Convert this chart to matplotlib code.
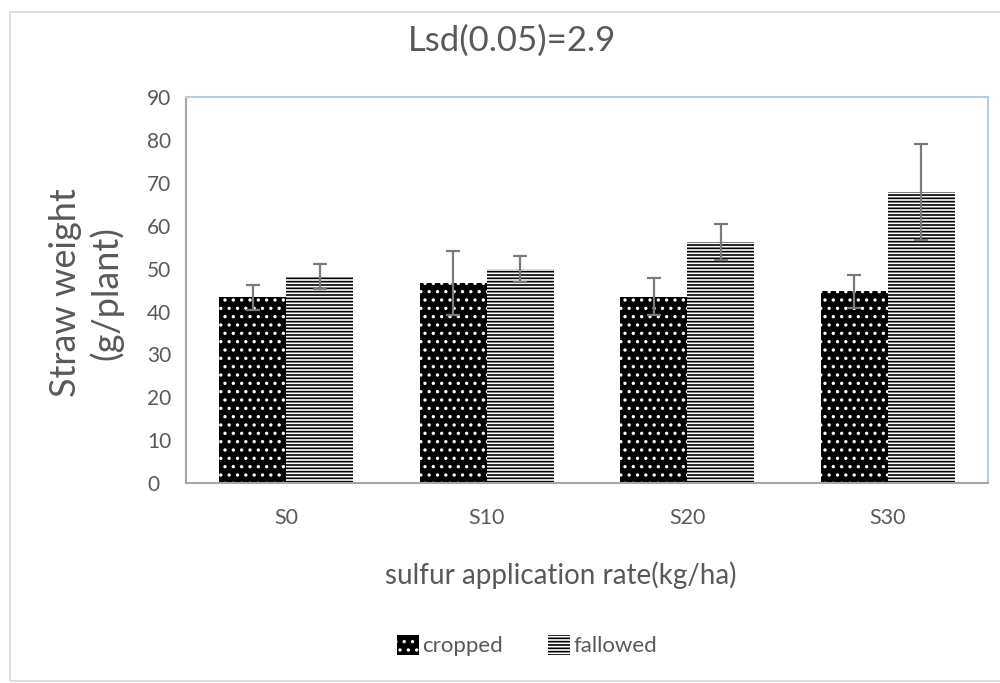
import numpy as np
import matplotlib.pyplot as plt
from matplotlib.patches import Rectangle

plt.rcParams['font.family'] = ['Lato', 'DejaVu Sans']
plt.rcParams['hatch.linewidth'] = 1.2

# Straw weight (g/plant) by sulfur rate, with error bars
categories = ["S0", "S10", "S20", "S30"]
cropped = [43.3, 46.6, 43.5, 44.7]
cropped_err = [3.0, 7.5, 4.3, 3.9]
fallowed = [48.2, 50.0, 56.3, 67.8]
fallowed_err = [3.0, 3.0, 4.2, 11.2]

text_gray = "#595959"

fig = plt.figure(figsize=(10, 6.83), dpi=100)
ax = fig.add_axes([0.186, 0.2928, 0.802, 0.5647])

x = np.arange(len(categories))
w = 0.333

# cropped: black with white dots (hatch takes the edge colour)
ax.bar(x - w / 2, cropped, w, color="black", edgecolor="white",
       linewidth=0, hatch="..", label="cropped")
# fallowed: dense black horizontal lines on white
ax.bar(x + w / 2, fallowed, w, color="white", edgecolor="black",
       linewidth=0, hatch="-----", label="fallowed")

ax.errorbar(x - w / 2, cropped, yerr=cropped_err, fmt="none",
            ecolor="#7a7a7a", elinewidth=1.6, capsize=5, capthick=1.6)
ax.errorbar(x + w / 2, fallowed, yerr=fallowed_err, fmt="none",
            ecolor="#7a7a7a", elinewidth=1.6, capsize=5, capthick=1.6)

ax.set_xlim(-0.5, 3.5)
ax.set_ylim(0, 90)
ax.set_yticks(np.arange(0, 91, 10))
ax.set_xticks(x)
ax.set_xticklabels(categories)
ax.tick_params(axis="both", length=0, colors=text_gray)
ax.tick_params(axis="x", pad=18, labelsize=15.5)
ax.tick_params(axis="y", pad=28, labelsize=15)
for lab in ax.get_yticklabels():
    lab.set_horizontalalignment("left")

for side in ["top", "right"]:
    ax.spines[side].set_color("#b7cde0")
for side in ["left", "bottom"]:
    ax.spines[side].set_color("#a6a6a6")
for sp in ax.spines.values():
    sp.set_linewidth(1.5)

fig.text(0.561, 0.158, "sulfur application rate(kg/ha)", fontsize=20,
         color=text_gray, ha="center", va="center")
fig.text(0.086, 0.571, "Straw weight\n(g/plant)", fontsize=26,
         color=text_gray, rotation=90, ha="center", va="center",
         multialignment="center", linespacing=1.25)
fig.text(0.512, 0.940, "Lsd(0.05)=2.9", fontsize=25, color=text_gray,
         ha="center", va="center")

ax.legend(loc="center", bbox_to_anchor=(0.527, 0.055),
          bbox_transform=fig.transFigure, ncol=2, frameon=False,
          fontsize=16, labelcolor=text_gray, handlelength=1.0,
          handleheight=1.0, handletextpad=0.15, columnspacing=2.0)

# light chart-area border
fig.patches.append(Rectangle((0.010, 0.003), 1.2, 0.98,
                             transform=fig.transFigure, fill=False,
                             edgecolor="#d9d9d9", linewidth=1.2))

fig.savefig("out.png", dpi=100)
